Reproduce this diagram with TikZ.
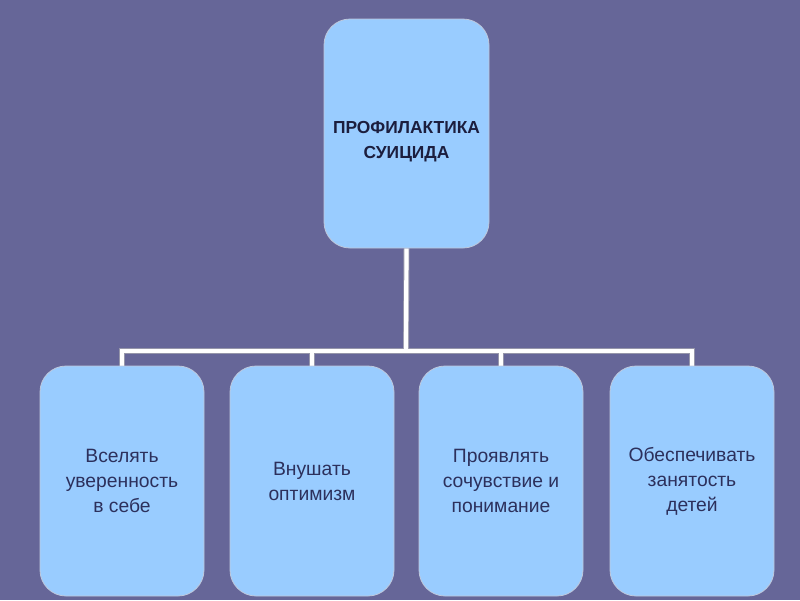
\documentclass[tikz,border=0pt]{standalone}
\usepackage{fontspec}
\setmainfont{Liberation Sans}
\usetikzlibrary{backgrounds}
\definecolor{bg}{RGB}{102,102,152}
\definecolor{boxfill}{RGB}{153,204,255}
\definecolor{boxline}{RGB}{190,200,220}
\definecolor{txt}{RGB}{44,48,92}
\definecolor{ttl}{RGB}{28,30,62}
\definecolor{connedge}{RGB}{150,150,170}
\begin{document}
\begin{tikzpicture}[x=1pt,y=-1pt,
  card/.style={draw=boxline, line width=0.8pt, fill=boxfill, rounded corners=26pt,
    minimum width=164pt, minimum height=230pt, inner sep=0pt, align=center,
    text=txt, font=\fontsize{19.3}{25}\selectfont},
  titlecard/.style={card, minimum width=165pt, minimum height=229pt,
    text=ttl, font=\fontsize{17.4}{25}\selectfont\bfseries},
  connout/.style={draw=connedge, line width=6pt},
  connin/.style={draw=white, line width=4.2pt}]
\node[titlecard] (top) at (406.5,133.5) {\parbox[c][54pt][b]{164pt}{\centering ПРОФИЛАКТИКА\\СУИЦИДА}};
\coordinate (bus) at (406,351);
\node[card] (b1) at (122,481) {Вселять\\уверенность\\в себе};
\node[card] (b2) at (312,481) {Внушать\\оптимизм};
\node[card] (b3) at (501,481) {Проявлять\\сочувствие и\\понимание};
\node[card] (b4) at (692,481) {Обеспечивать\\занятость\\детей};
\begin{scope}[on background layer]
\fill[bg] (0,0) rectangle (800,600);
\foreach \s in {connout,connin}{
  \draw[\s] (top.south) -- (bus);
  \draw[\s] (b1.north) |- (b4.north |- bus) -- (b4.north);
  \draw[\s] (b2.north) -- (b2.north |- bus);
  \draw[\s] (b3.north) -- (b3.north |- bus);
}
\end{scope}
\useasboundingbox (0,0) rectangle (800,600);
\end{tikzpicture}
\end{document}
